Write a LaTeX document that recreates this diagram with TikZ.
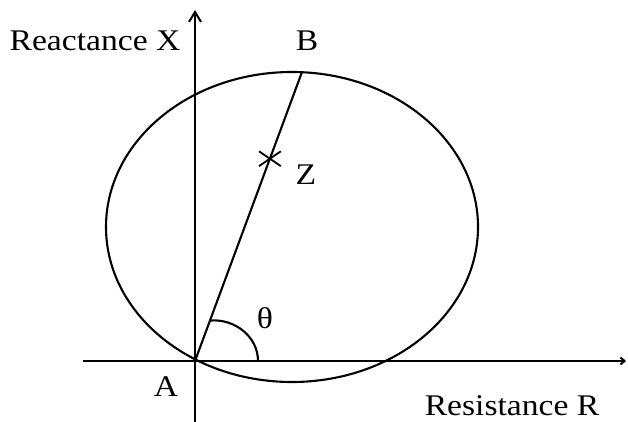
\documentclass[tikz,border=0pt]{standalone}
\usepackage{fontspec}
\setmainfont{Liberation Serif}[FakeStretch=1.12]
\usetikzlibrary{arrows.meta,shapes.misc,calc}

\begin{document}
\begin{tikzpicture}[
    x=1pt, y=-1pt,
    line width=2.1pt,
    axis/.style={line width=2pt},
    lbl/.style={font=\fontsize{30}{35}\selectfont, inner sep=0pt}
  ]
    \useasboundingbox (0,0) rectangle (628,422);

    % axes
    \coordinate (xl) at (83,361);
    \coordinate (xr) at (626,361);
    \coordinate (yb) at (195,422);
    \coordinate (yt) at (195,10);
    \draw[axis, -{Straight Barb[length=4pt,width=7pt]}] (xl) -- (xr);
    \draw[axis, -{Straight Barb[length=10pt,width=12pt]}] (yb) -- (yt);

    % impedance locus
    \draw (292,227) ellipse [x radius=186pt, y radius=155pt];

    \coordinate (A) at (195,361);
    \coordinate (B) at (302,72);
    \draw (A) -- (B);
    \node[cross out, draw, line width=1.8pt, minimum width=20pt, minimum height=13pt, inner sep=0pt] (z) at ($(A)!0.7!(B)$) {};

    % angle
    \coordinate (t1) at ($(A)!0.14!(B)$);
    \coordinate (t2) at (258,361);
    \draw (t1) to[out=5, in=90] (t2);

    \node[lbl] (lA) at (166,387) {A};
    \node[lbl] (lB) at (307,41) {B};
    \node[lbl] (lZ) at (306,175) {Z};
    \node[lbl] (lth) at (265,318) {θ};
    \node[lbl] (lX) at (95,41) {Reactance X};
    \node[lbl] (lR) at (512,406) {Resistance R};
  \end{tikzpicture}
\end{document}
